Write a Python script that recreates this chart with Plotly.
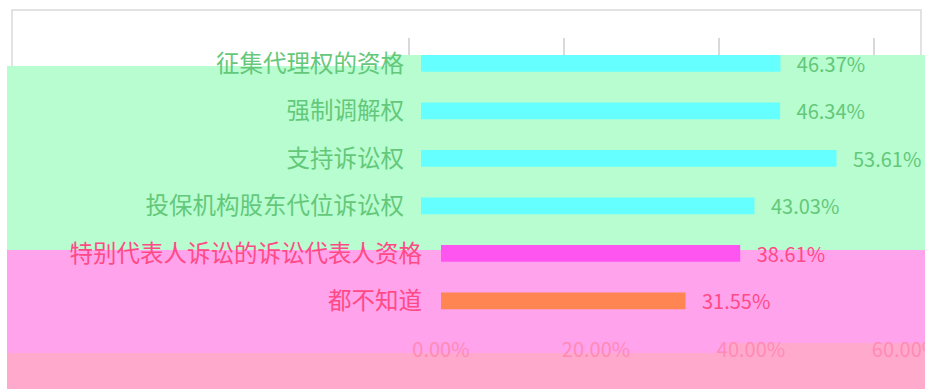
import plotly.graph_objects as go

# ---- data ----
categories = ["征集代理权的资格", "强制调解权", "支持诉讼权", "投保机构股东代位诉讼权",
              "特别代表人诉讼的诉讼代表人资格", "都不知道"]
values = [46.37, 46.34, 53.61, 43.03, 38.61, 31.55]
tick_values = [0, 20, 40, 60]
tick_labels = ["0.00%", "20.00%", "40.00%", "60.00%"]

# ---- styling ----
W, H = 925, 389
PX_PER_PCT = 7.75
FONT = "Noto Sans CJK SC"
GREEN_BG = "#b7fdd0"
PINK_BG = "#ffa3ec"
LIGHT_PINK_BG = "#ffaacc"
GREEN_TXT = "#64c87a"
PINK_TXT = "#ff4a86"
NBSP = "\u00a0"

def fx(p):
    return p / W

def fy(p):
    return 1 - p / H

top_rows = categories[:4]
bottom_rows = categories[4:]
y_dom = [fy(324.6), fy(39.6)]

def label(v):
    return NBSP * 3 + f"{v:.2f}%"

fig = go.Figure()
fig.add_trace(go.Bar(
    y=top_rows, x=values[:4], orientation="h", xaxis="x", yaxis="y",
    marker=dict(color="#66ffff", line=dict(width=0)), width=0.35,
    text=[label(v) for v in values[:4]], textposition="outside", cliponaxis=False,
    constraintext="none",
    textfont=dict(family=FONT, size=20, color=GREEN_TXT), showlegend=False,
    hoverinfo="skip",
))
fig.add_trace(go.Bar(
    y=bottom_rows, x=values[4:], orientation="h", xaxis="x2", yaxis="y2",
    marker=dict(color=["#ff55f0", "#ff8552"], line=dict(width=0)), width=0.35,
    text=[label(v) for v in values[4:]], textposition="outside", cliponaxis=False,
    constraintext="none",
    textfont=dict(family=FONT, size=20, color=PINK_TXT), showlegend=False,
    hoverinfo="skip",
))
# empty trace to hold the top grid strip
fig.add_trace(go.Scatter(x=[], y=[], xaxis="x3", yaxis="y3", showlegend=False))

shapes = [
    dict(type="rect", xref="paper", yref="paper", x0=fx(12), x1=fx(921), y0=fy(10), y1=fy(386),
         line=dict(color="#d9d9d9", width=1.5), fillcolor="rgba(0,0,0,0)", layer="below"),
    dict(type="rect", xref="paper", yref="paper", x0=fx(7), x1=fx(390), y0=fy(66), y1=fy(250),
         line=dict(width=0), fillcolor=GREEN_BG, layer="below"),
    dict(type="rect", xref="paper", yref="paper", x0=fx(387), x1=fx(925), y0=fy(55), y1=fy(250),
         line=dict(width=0), fillcolor=GREEN_BG, layer="below"),
    dict(type="rect", xref="paper", yref="paper", x0=fx(7), x1=fx(925), y0=fy(250), y1=fy(353),
         line=dict(width=0), fillcolor=PINK_BG, layer="below"),
    dict(type="rect", xref="paper", yref="paper", x0=fx(7), x1=fx(925), y0=fy(353), y1=fy(389),
         line=dict(width=0), fillcolor=LIGHT_PINK_BG, layer="below"),
    dict(type="rect", xref="paper", yref="paper", x0=fx(728), x1=fx(925), y0=fy(343), y1=fy(353),
         line=dict(width=0), fillcolor=LIGHT_PINK_BG, layer="below"),
]

fig.update_layout(
    width=W, height=H,
    margin=dict(l=0, r=0, t=0, b=0, pad=0),
    paper_bgcolor="white", plot_bgcolor="rgba(0,0,0,0)",
    font=dict(family=FONT),
    shapes=shapes,
    xaxis=dict(domain=[fx(421), 1], range=[0, (W - 421) / PX_PER_PCT], anchor="y",
               automargin=False,
               showgrid=False, zeroline=False, showline=False, showticklabels=False, ticks=""),
    yaxis=dict(domain=y_dom, type="category", categoryarray=categories, range=[5.5, -0.5],
               automargin=False,
               tickvals=top_rows, anchor="x", showgrid=False, zeroline=False, showline=False,
               ticks="", ticklabelstandoff=16,
               tickfont=dict(family=FONT, size=23.5, color=GREEN_TXT)),
    xaxis2=dict(domain=[fx(441), 1], range=[0, (W - 441) / PX_PER_PCT], anchor="y2",
                automargin=False, ticklabeloverflow="allow",
                showgrid=False, zeroline=False, showline=False, ticks="",
                tickvals=tick_values, ticktext=tick_labels, ticklabelstandoff=11,
                tickfont=dict(family=FONT, size=20, color="#ff8ab6")),
    yaxis2=dict(domain=y_dom, type="category", categoryarray=categories, range=[5.5, -0.5],
                automargin=False,
                tickvals=bottom_rows, anchor="x2", showgrid=False, zeroline=False, showline=False,
                ticks="", ticklabelstandoff=18,
                tickfont=dict(family=FONT, size=23.5, color=PINK_TXT)),
    xaxis3=dict(domain=[fx(409), 1], range=[0, (W - 409) / PX_PER_PCT], anchor="y3",
                automargin=False,
                showgrid=True, gridcolor="#d9d9d9", gridwidth=1.5, tickvals=tick_values,
                zeroline=True, zerolinecolor="#d9d9d9", zerolinewidth=1.5,
                showticklabels=False, showline=False, ticks=""),
    yaxis3=dict(domain=[fy(55), fy(38)], range=[0, 1], anchor="x3", visible=False,
                automargin=False),
)

fig.write_html("out.html", config={"displayModeBar": False},
               post_script="document.body.style.margin='0';")
